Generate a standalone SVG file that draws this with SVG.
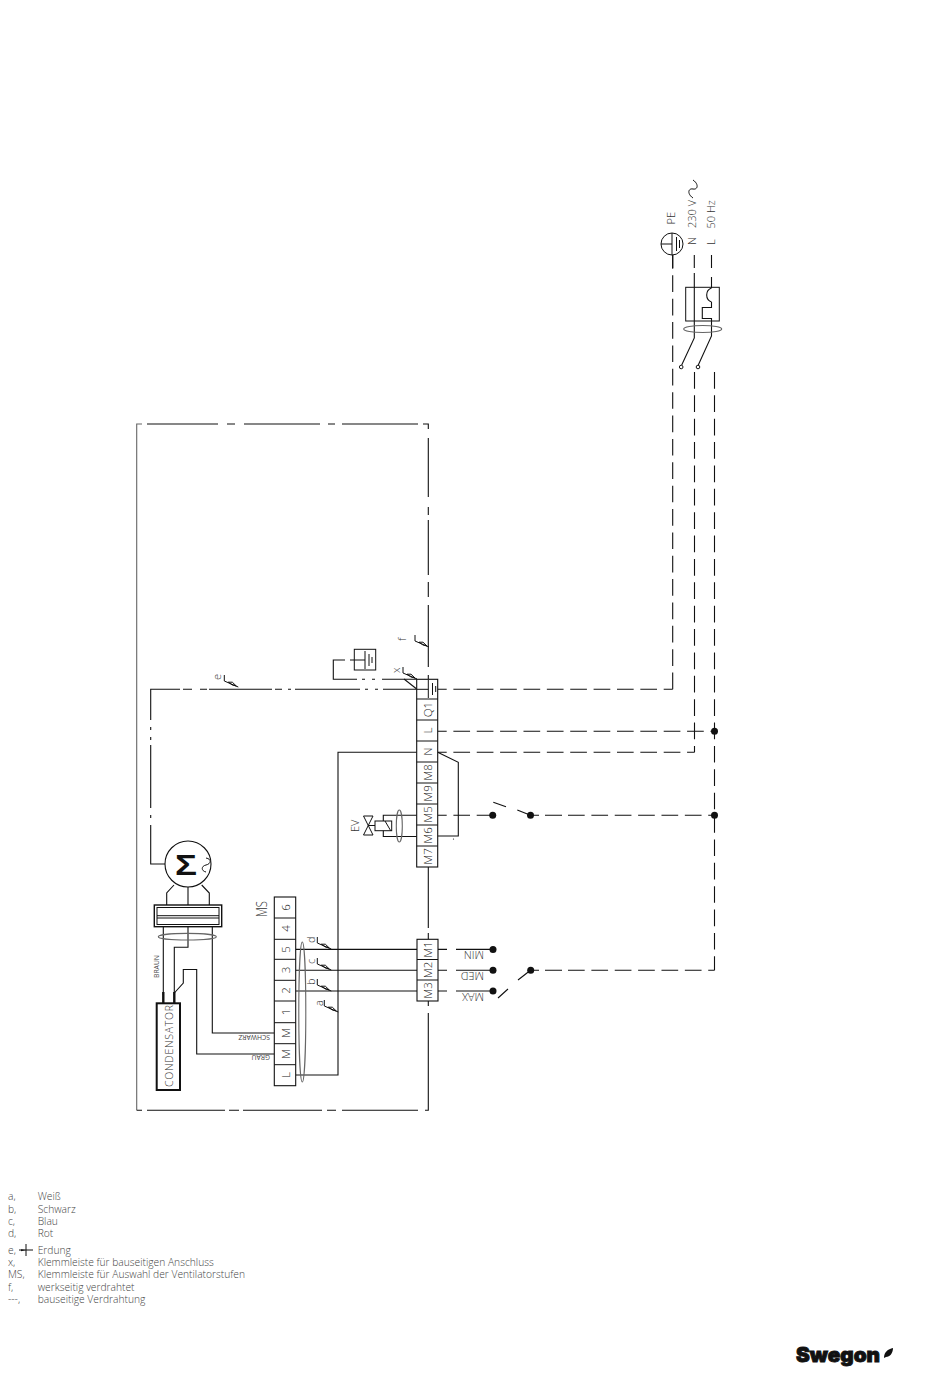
<svg xmlns="http://www.w3.org/2000/svg" width="950" height="1379" viewBox="0 0 950 1379">
<defs>
<style>
.l{fill:none;stroke:#111;stroke-width:1.1}
.g{fill:none;stroke:#666;stroke-width:1.1}
.t{fill:none;stroke:#111;stroke-width:1}
.d{fill:none;stroke:#111;stroke-width:1.1;stroke-dasharray:16.7 6.67;stroke-dashoffset:7.7}
.o{stroke-dashoffset:0}
.b{fill:#fff;stroke:#111;stroke-width:1.1}
.k{fill:none;stroke:#111;stroke-width:2.4}
.p{fill:#111}
text{font-family:"Open Sans","Noto Sans","Liberation Sans",sans-serif;fill:#333;font-weight:300}
.n{font-size:11.5px;text-anchor:middle;dominant-baseline:central;fill:#222}
.s{font-size:6.8px;fill:#444;font-weight:400}
.m{font-size:11px;fill:#333}
.e{font-size:10.25px;fill:#444}
</style>
<g id="tag"><path class="t" d="M0,0V6L14,12"/><path class="t" d="M4,7.2L8,7.2L12,11L8,10Z"/></g>
</defs>
<rect width="950" height="1379" fill="#fff"/>

<g id="connectors">
<path class="l" d="M147,424H218M227,424H235M244,424H320M328,424H335M342,424H418M423,424H428.3V429M428.3,438V497M428.3,507V515M428.3,520V575M428.3,582V597M428.3,605V667M428.3,675V680"/>
<path class="g" d="M142,424H136.7V1110.3"/>
<path class="l" d="M136.7,1110.3H142M147,1110.3H225M229,1110.3H239M243,1110.3H322M327,1110.3H336M342,1110.3H418M425,1110.3H428.3V1013M428.3,1006V1001M428.3,939V933M428.3,928V867"/>
<path class="l" d="M165,864H150.7V825M150.7,818V815M150.7,808V745M150.7,740V737M150.7,730V727M150.7,720V689.3H180M183,689.3H192M200,689.3H207M209,689.3H272M275,689.3H282M288,689.3H291M295,689.3H360M365,689.3H368M375,689.3H378M383,689.3H417"/>
<path class="l" d="M357,679.3H333.3V660H345M350,660H354.5M362,679.3H365M372,679.3H375M382,679.3H417"/>
<path class="l" d="M404,679L417,689.3"/>
<path class="d" d="M437.7,689.3H672.7"/>
<path class="d o" d="M672.7,689.3V255"/>
<path class="d" d="M437.7,731.3H714.5"/>
<path class="d" d="M437.7,752.3H694.5"/>
<path class="d o" d="M694.5,372V752.3"/>
<path class="d o" d="M714.5,372V970.3"/>
<path class="l" d="M437.7,815.3H446.7M453.4,815.3H470M476.7,815.3H493"/>
<path class="l" d="M530.5,815.3H539M545,815.3H562"/>
<path class="d o" d="M568,815.3H714.5"/>
<path class="l" d="M530.5,970.3H539M545,970.3H562"/>
<path class="d o" d="M568,970.3H714.5"/>
<path class="l" d="M437.7,949.4H447M456,949.4H493M437.7,970.3H447M456,970.3H493M437.7,991H447M456,991H493"/>
<path class="l" d="M493.3,802.3L506,806.7M517.3,810L530.5,815.3M518,980L530.5,970.3M498,998L508,989"/>
<path class="l" d="M437.7,752.3L458.3,762.3V836H437.7M295.7,949.4H417M295.7,970.3H417M295.7,991H417"/>
<path class="l" d="M417,752.3H338V1075H295.7"/>
<path class="l" d="M417,815.3H383.3V821M417,836.5H383.3V830.7"/>
<path class="l" d="M166.7,905V893L174,885M188,887V905M209.3,905V893L201.7,885"/>
<path class="l" d="M163.3,927V995M188,927V947.3H174.3V995M212.3,927V1033H274.3"/>
<path class="l" d="M174.3,993L183.3,983V969.5H196.7V1054H274.3"/>
<path class="k" d="M163.3,992V1003M174.3,992V1003"/>
<path class="l" d="M672.7,255V268M694.3,255V268M694.3,273V338L681.7,365M711.5,255V268M711.5,277V288"/>
<path class="l" d="M711.5,302V307.5H702.3V318.5H711.5V336L698.3,365M711.5,288A7.5,7.5 0 0 0 711.5,302"/>
</g>

<g id="supply-labels">
<text class="m" transform="translate(675,224.500) rotate(-90)">PE</text>
<text class="m" transform="translate(696,245) rotate(-90)">N</text>
<text class="m" transform="translate(696,228) rotate(-90)">230 V</text>
<text class="m" transform="translate(715,245) rotate(-90)">L</text>
<text class="m" transform="translate(715,228.500) rotate(-90)">50 Hz</text>
<path class="t" d="M693,198C687,194 688,188 693,189C698,190 699,184 693,180"/>
</g>

<g id="pe-earth">
<circle class="t" cx="672" cy="244" r="11"/>
<path class="t" d="M661,244H672M672,233V255M676.500,237V251M679.500,240V248"/>
</g>

<g id="thermal-switch">
<rect class="t" x="685.700" y="287.300" width="33.600" height="33.700"/>
<ellipse class="g" cx="702.700" cy="329" rx="19" ry="3.500"/>
<circle class="t" cx="681.200" cy="367" r="1.800"/>
<circle class="t" cx="698" cy="367" r="1.800"/>
</g>

<g id="enclosure-earth">
<rect class="t" x="354.300" y="649.300" width="21.400" height="20.700"/>
<path class="t" d="M354.500,660H365M365,651V669M369,654V666M372,657V663"/>
</g>

<g id="terminal-strip">
<rect class="b" x="416.700" y="679.300" width="21" height="187.700"/>
<path class="t" d="M416.700,699H437.700M416.700,720H437.700M416.700,741H437.700M416.700,762H437.700M416.700,783H437.700M416.700,804H437.700M416.700,825H437.700M416.700,846H437.700"/>
<path class="t" d="M428.300,680V698M432.500,683V695M435.700,686V692M417,689.300H428.300"/>
<text class="n" transform="translate(427.200,709.500) rotate(-90)">Q1</text>
<text class="n" transform="translate(427.200,730.500) rotate(-90)">L</text>
<text class="n" transform="translate(427.200,751.500) rotate(-90)">N</text>
<text class="n" transform="translate(427.200,772.500) rotate(-90)">M8</text>
<text class="n" transform="translate(427.200,793.500) rotate(-90)">M9</text>
<text class="n" transform="translate(427.200,814.500) rotate(-90)">M5</text>
<text class="n" transform="translate(427.200,835.500) rotate(-90)">M6</text>
<text class="n" transform="translate(427.200,856.500) rotate(-90)">M7</text>
</g>

<g id="terminal-strip-lower">
<rect class="b" x="417" y="939.300" width="21" height="61.700"/>
<path class="t" d="M417,959.500H438M417,980H438"/>
<text class="n" transform="translate(427.500,949.500) rotate(-90)">M1</text>
<text class="n" transform="translate(427.500,970) rotate(-90)">M2</text>
<text class="n" transform="translate(427.500,990.500) rotate(-90)">M3</text>
</g>

<g id="ev-valve">
<path class="t" d="M363.500,816H373L363.500,835H373ZM368.300,825.500H375"/>
<rect class="t" x="375" y="821" width="16.700" height="9.700"/>
<path class="t" d="M385,821L390.700,830.700"/>
<ellipse class="g" cx="399.300" cy="826" rx="3" ry="16"/>
<text class="m" transform="translate(359,832) rotate(-90)">EV</text>
<circle class="p" cx="453.500" cy="839" r=".6"/>
</g>

<g id="switches">
<circle class="p" cx="492.700" cy="815.300" r="3.500"/>
<circle class="p" cx="530.500" cy="815.300" r="3.500"/>
<circle class="p" cx="714.500" cy="731.300" r="3.500"/>
<circle class="p" cx="714.500" cy="815.300" r="3.500"/>
<circle class="p" cx="493" cy="949.400" r="3.500"/>
<circle class="p" cx="493" cy="970.300" r="3.500"/>
<circle class="p" cx="493" cy="991" r="3.500"/>
<circle class="p" cx="530.700" cy="970.300" r="3.500"/>
<text class="m" transform="translate(484,955) rotate(180)" dominant-baseline="central">MIN</text>
<text class="m" transform="translate(484,976) rotate(180)" dominant-baseline="central">MED</text>
<text class="m" transform="translate(484,997) rotate(180)" dominant-baseline="central">MAX</text>
</g>

<g id="motor">
<circle class="b" cx="188" cy="864" r="23"/>
<text x="186" y="875" text-anchor="middle" font-size="29" textLength="22" lengthAdjust="spacingAndGlyphs" style="font-family:'Liberation Sans',sans-serif;font-weight:700;fill:#111">Σ</text>
<path class="t" d="M206,858C212,859 211,864 206,865C201,866 201,871 206,872"/>
</g>

<g id="motor-connector">
<rect class="b" x="154.300" y="905" width="67.400" height="21.700" style="stroke-width:1.400"/>
<rect class="t" x="157" y="907.500" width="62" height="17"/>
<path class="t" d="M157,915.700H219M157,918H219"/>
<ellipse class="g" cx="187.300" cy="936.700" rx="29" ry="3.300"/>
</g>

<g id="condensator">
<rect x="156.700" y="1003.300" width="23.300" height="86.700" fill="#fff" stroke="#111" stroke-width="2"/>
<text class="m" transform="translate(172.500,1087) rotate(-90)" textLength="82" lengthAdjust="spacing" style="font-size:10.500px">CONDENSATOR</text>
</g>

<g id="ms-strip">
<rect class="b" x="274.300" y="897" width="21.400" height="188.700"/>
<path class="t" d="M274.300,918H295.700M274.300,939.300H295.700M274.300,959.300H295.700M274.300,980.300H295.700M274.300,1001H295.700M274.300,1022.700H295.700M274.300,1043.700H295.700M274.300,1064.700H295.700"/>
<text class="n" transform="translate(285,907.500) rotate(-90)">6</text>
<text class="n" transform="translate(285,928.500) rotate(-90)">4</text>
<text class="n" transform="translate(285,949.500) rotate(-90)">5</text>
<text class="n" transform="translate(285,970) rotate(-90)">3</text>
<text class="n" transform="translate(285,990.500) rotate(-90)">2</text>
<text class="n" transform="translate(285,1012) rotate(-90)">1</text>
<text class="n" transform="translate(285,1033) rotate(-90)">M</text>
<text class="n" transform="translate(285,1054) rotate(-90)">M</text>
<text class="n" transform="translate(285,1075) rotate(-90)">L</text>
<ellipse cx="302.300" cy="1012" rx="3.500" ry="70" fill="none" stroke="#666" stroke-width="1.100"/>
<text transform="translate(266.500,917) rotate(-90)" font-size="15" textLength="16" lengthAdjust="spacingAndGlyphs">MS</text>
</g>

<g id="wire-labels">
<text class="s" transform="translate(159,978) rotate(-90)">BRAUN</text>
<text class="s" transform="translate(270,1034.500) rotate(180)">SCHWARZ</text>
<text class="s" transform="translate(270,1055) rotate(180)">GRAU</text>
</g>

<g id="tags">
<use href="#tag" x="224.300" y="675"/>
<text class="m" transform="translate(221,680) rotate(-90)">e</text>
<use href="#tag" x="415" y="635"/>
<text class="m" transform="translate(406,641) rotate(-90)">f</text>
<use href="#tag" x="403" y="667"/>
<text class="m" transform="translate(400,673) rotate(-90)">x</text>
<use href="#tag" x="317.300" y="937"/>
<text class="m" transform="translate(315,943) rotate(-90)">d</text>
<use href="#tag" x="317.300" y="958"/>
<text class="m" transform="translate(315,964) rotate(-90)">c</text>
<use href="#tag" x="317.300" y="979"/>
<text class="m" transform="translate(315,985) rotate(-90)">b</text>
<use href="#tag" x="324.300" y="1000"/>
<text class="m" transform="translate(323,1006) rotate(-90)">a</text>
</g>

<g id="legend">
<text class="e" x="8" y="1200">a,</text><text class="e" x="37.700" y="1200">Weiß</text>
<text class="e" x="8" y="1212.500">b,</text><text class="e" x="37.700" y="1212.500">Schwarz</text>
<text class="e" x="8" y="1225">c,</text><text class="e" x="37.700" y="1225">Blau</text>
<text class="e" x="8" y="1237">d,</text><text class="e" x="37.700" y="1237">Rot</text>
<text class="e" x="8" y="1253.500">e,</text><text class="e" x="37.700" y="1253.500">Erdung</text>
<path class="t" d="M19,1250H33M26,1244V1256"/><path class="p" d="M21,1249.300L26,1250L21,1251.200Z"/>
<text class="e" x="8" y="1265.500">x,</text><text class="e" x="37.700" y="1265.500">Klemmleiste für bauseitigen Anschluss</text>
<text class="e" x="8" y="1278">MS,</text><text class="e" x="37.700" y="1278">Klemmleiste für Auswahl der Ventilatorstufen</text>
<text class="e" x="8" y="1290.500">f,</text><text class="e" x="37.700" y="1290.500">werkseitig verdrahtet</text>
<text class="e" x="8" y="1303">---,</text><text class="e" x="37.700" y="1303">bauseitige Verdrahtung</text>
</g>

<g id="logo">
<text x="796" y="1362" font-size="20" textLength="84" lengthAdjust="spacingAndGlyphs" style="font-family:Inter,'Liberation Sans',sans-serif;font-weight:900;fill:#111;stroke:#111;stroke-width:.9">Swegon</text>
<path class="p" d="M884,1358C884,1352 888,1349 893,1348C893,1353 890,1357 886,1357Z"/>
</g>
</svg>
